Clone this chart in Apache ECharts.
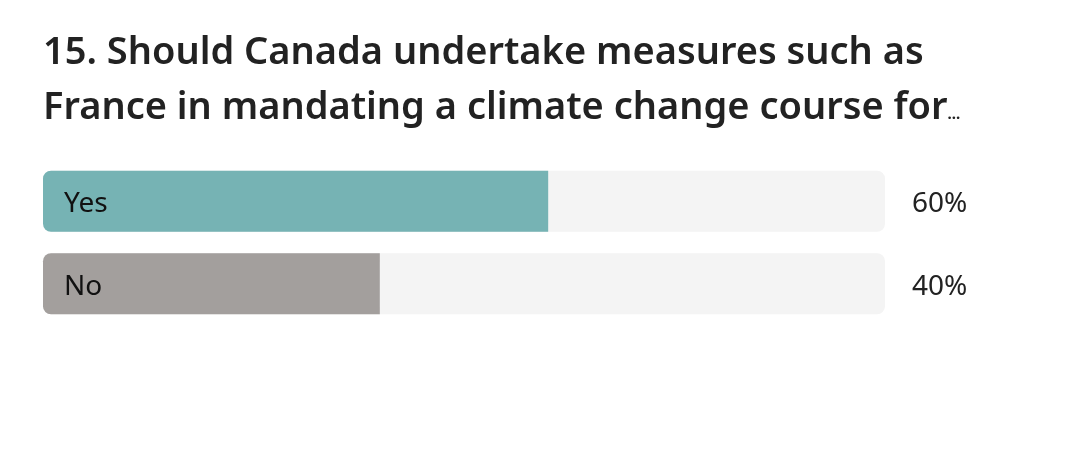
<!DOCTYPE html>
<html><head><meta charset="utf-8">
<script src="https://cdn.jsdelivr.net/npm/echarts@6/dist/echarts.min.js"></script>
<style>html,body{margin:0;padding:0;background:#fff}#c{width:1066px;height:456px}</style>
</head><body><div id="c"></div>
<script>
const titleLines = ["15. Should Canada undertake measures such as", "France in mandating a climate change course for"];
const categories = ["Yes", "No"];
const values = [60, 40];
const colors = ["#76b3b4", "#a39f9d"];

const chart = echarts.init(document.getElementById('c'));
chart.setOption({
  animation: false,
  title: {
    text: '{t|' + titleLines[0] + '}\n{t|' + titleLines[1] + '}{e|...}',
    left: 38, top: 21,
    textStyle: {
      rich: {
        t: { fontFamily: 'Noto Sans', fontWeight: 600, fontSize: 38, color: '#222', lineHeight: 55 },
        e: { fontFamily: 'Noto Sans', fontSize: 15, color: '#222', lineHeight: 55, verticalAlign: 'bottom', padding: [0,0,14,0] }
      }
    }
  },
  grid: { left: 43, right: 181, top: 160, height: 165 },
  xAxis: { type: 'value', min: 0, max: 100, show: false },
  yAxis: [
    { type: 'category', data: categories, inverse: true, show: false },
    { type: 'category', data: values.map(v => v + '%'), inverse: true, position: 'right',
      axisLine: { show: false }, axisTick: { show: false },
      axisLabel: { margin: 27, align: 'left',
        formatter: v => '{p|' + v + '}',
        rich: { p: { fontFamily: 'Noto Sans', fontSize: 28, color: '#222', padding: [6, 0, 0, 0] } } } }
  ],
  series: [{
    type: 'bar', barWidth: 61,
    data: values.map((v, i) => ({ value: v, itemStyle: { color: colors[i] } })),
    itemStyle: { borderRadius: [8, 0, 0, 8] },
    showBackground: true,
    backgroundStyle: { color: '#f4f4f4', borderRadius: 8 },
    label: {
      show: true, position: 'insideLeft', distance: 21, offset: [0, 3],
      formatter: p => categories[p.dataIndex],
      fontFamily: 'Noto Sans', fontSize: 28, color: '#111'
    }
  }]
});
</script></body></html>
